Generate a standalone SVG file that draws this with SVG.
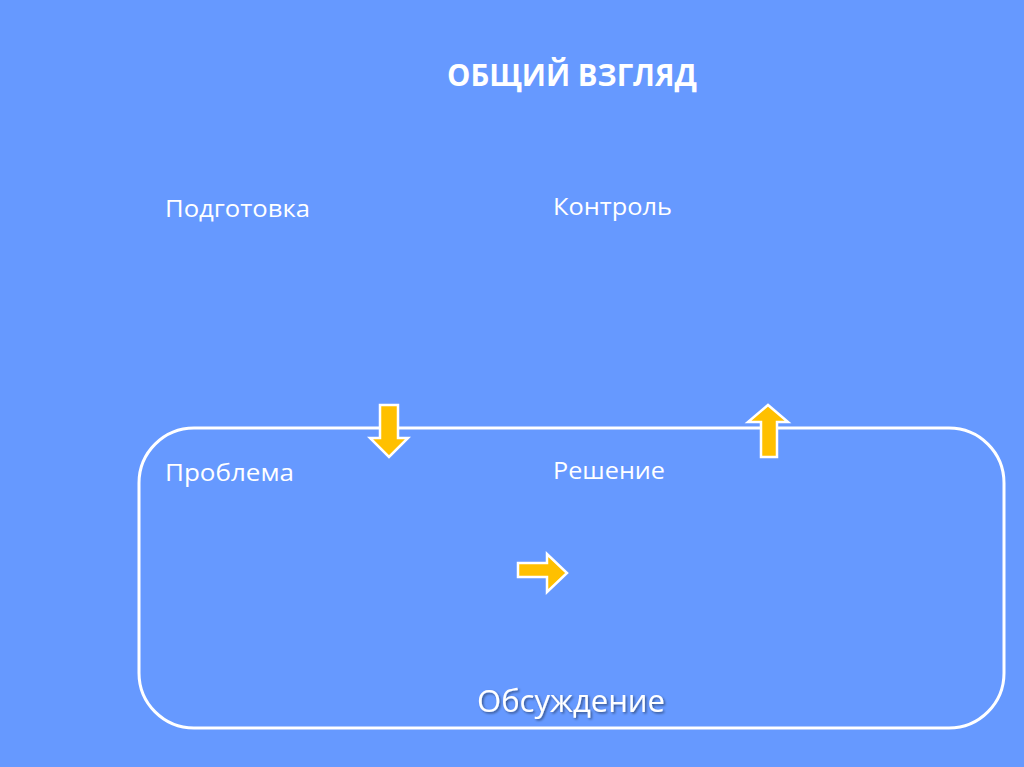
<svg xmlns="http://www.w3.org/2000/svg" width="1024" height="767" viewBox="0 0 1024 767">
<style>
.t{fill:#fff;font-family:"Open Sans","Liberation Sans",sans-serif;}
.lbl{font-size:24.5px;}
.arr{fill:#ffc000;stroke:#fff;stroke-width:2.5;stroke-linejoin:miter;}
</style>
<defs>
<filter id="sh" x="-10%" y="-20%" width="120%" height="150%"><feDropShadow dx="1.5" dy="1.5" stdDeviation="1" flood-color="#000" flood-opacity="0.45"/></filter>
</defs>
<rect width="1024" height="767" fill="#6699ff"/>
<g id="title"><text class="t" x="447" y="86" font-size="31" font-weight="bold" textLength="250" lengthAdjust="spacingAndGlyphs">ОБЩИЙ ВЗГЛЯД</text></g>
<g id="frame"><rect x="139" y="428" width="865" height="300" rx="55" ry="55" fill="none" stroke="#fff" stroke-width="3"/></g>
<g id="podgotovka"><text class="t lbl" x="165" y="217" textLength="145" lengthAdjust="spacingAndGlyphs">Подготовка</text></g>
<g id="kontrol"><text class="t lbl" x="553" y="215" textLength="119" lengthAdjust="spacingAndGlyphs">Контроль</text></g>
<g id="problema"><text class="t lbl" x="165" y="481" textLength="129" lengthAdjust="spacingAndGlyphs">Проблема</text></g>
<g id="reshenie"><text class="t lbl" x="553" y="479" textLength="112" lengthAdjust="spacingAndGlyphs">Решение</text></g>
<g id="obsuzhdenie"><text class="t" x="477" y="712" font-size="31" textLength="188" lengthAdjust="spacingAndGlyphs" filter="url(#sh)">Обсуждение</text></g>
<g id="connectors">
<polygon class="arr" points="380,405 398,405 398,438 408,438 389,457 370,438 380,438"/>
<polygon class="arr" points="761,457 777,457 777,422 788,422 768,405 748,422 761,422"/>
<polygon class="arr" points="518,563 547,563 547,554 567,573 547,592 547,577 518,577"/>
</g>
</svg>
